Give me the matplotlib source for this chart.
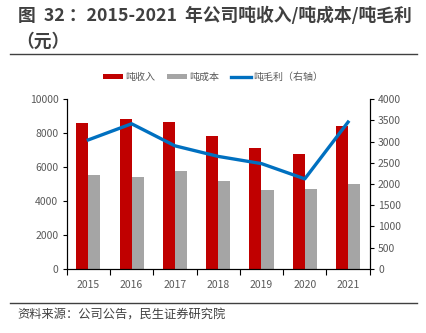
import matplotlib
matplotlib.use("Agg")
import matplotlib.pyplot as plt
import numpy as np

plt.rcParams["font.family"] = ["Noto Sans CJK SC", "DejaVu Sans"]

years = ["2015", "2016", "2017", "2018", "2019", "2020", "2021"]
revenue_per_ton = [8570, 8810, 8670, 7840, 7130, 6790, 8430]
cost_per_ton = [5530, 5400, 5770, 5200, 4650, 4690, 4990]
margin_per_ton = [3040, 3420, 2900, 2650, 2480, 2120, 3460]

RED = "#C00000"
GREY = "#A5A5A5"
BLUE = "#0070C0"
TXT = "#595959"

fig = plt.figure(figsize=(4.27, 3.33), dpi=100)
W, H = 427, 333
ax = fig.add_axes([66.7 / W, 1 - 268.7 / H, 303 / W, 169.5 / H])
ax2 = ax.twinx()

x = np.arange(len(years))
bw = 0.28
ax.bar(x - bw / 2, revenue_per_ton, bw, color=RED, label="吨收入", zorder=2)
ax.bar(x + bw / 2, cost_per_ton, bw, color=GREY, label="吨成本", zorder=2)
ax2.plot(x, margin_per_ton, color=BLUE, lw=2.4, label="吨毛利（右轴）")

ax.set_xlim(-0.5, 6.5)
ax.set_ylim(0, 10000)
ax2.set_ylim(0, 4000)
ax.set_yticks(np.arange(0, 10001, 2000))
ax2.set_yticks(np.arange(0, 4001, 500))
ax.set_xticks(x)
ax.set_xticklabels(years)
ax.set_xticks(np.arange(-0.5, 7, 1), minor=True)
ax.tick_params(axis="x", which="major", length=0, pad=8, labelsize=7.5, labelcolor=TXT)
ax.tick_params(axis="x", which="minor", length=4, width=0.8, direction="out")
ax.tick_params(axis="y", length=3, width=0.8, labelsize=7.5, labelcolor=TXT, pad=3)
ax2.tick_params(axis="y", length=3, width=0.8, labelsize=7.5, labelcolor=TXT, pad=3)

for a in (ax, ax2):
    a.spines["top"].set_visible(False)
    for s in ("left", "right", "bottom"):
        a.spines[s].set_linewidth(0.8)
        a.spines[s].set_color("black")

h1, l1 = ax.get_legend_handles_labels()
h2, l2 = ax2.get_legend_handles_labels()
fig.legend(h1 + h2, l1 + l2, loc="center", bbox_to_anchor=(213 / W, 1 - 77 / H),
           ncol=3, frameon=False, fontsize=7.2, handlelength=2.0, handleheight=0.5,
           columnspacing=1.2, handletextpad=0.2, labelcolor=TXT)

fig.text(18 / W, 1 - 16 / H, "图  32 ：2015-2021  年公司吨收入/吨成本/吨毛利",
         fontsize=12.8, fontweight="bold", color="#404040", va="center")
fig.text(16 / W, 1 - 42 / H, "（元）", fontsize=12.8, fontweight="bold",
         color="#404040", va="center")
fig.add_artist(plt.Line2D([10 / W, 417 / W], [1 - 54 / H, 1 - 54 / H],
                          color="#404040", lw=1.0))
fig.add_artist(plt.Line2D([10 / W, 417 / W], [1 - 302.7 / H, 1 - 302.7 / H],
                          color="#404040", lw=1.0))
fig.text(17 / W, 1 - 315 / H, "资料来源：公司公告，民生证券研究院",
         fontsize=8.8, color="#404040", va="center")

fig.savefig("out.png", dpi=100)
